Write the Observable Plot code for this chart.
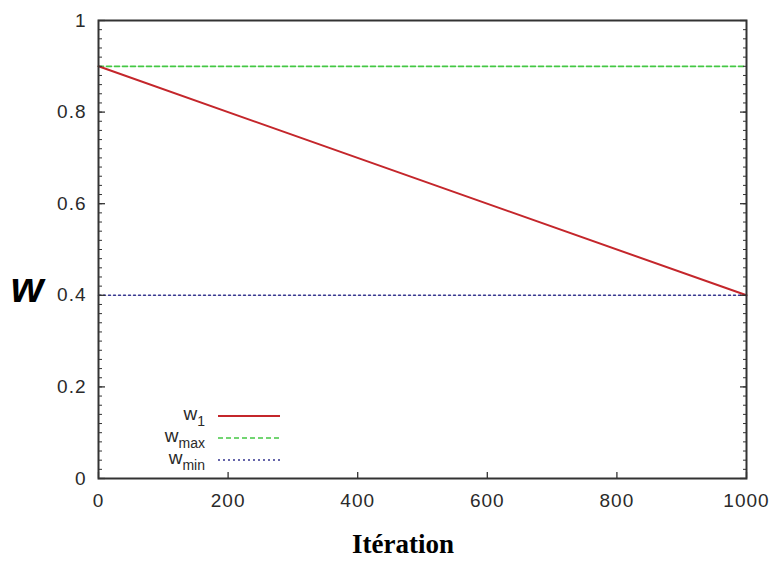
<!DOCTYPE html>
<html><head><meta charset="utf-8">
<script src="https://cdn.jsdelivr.net/npm/d3@7"></script>
<script src="https://cdn.jsdelivr.net/npm/@observablehq/plot@0.6"></script>
<style>
body{margin:0;background:#fff}
#wrap{position:relative;width:772px;height:561px;font-family:"Liberation Sans",Arial,sans-serif}
#wrap svg{position:absolute;left:0;top:0}
</style>
</head><body><div id="wrap"></div>
<script>
// ---- data ----
const iterations = [0, 1000];
const wT   = [0.9, 0.4];
const wMax = [0.9, 0.9];
const wMin = [0.4, 0.4];
const xTicks = [0, 200, 400, 600, 800, 1000];
const yTicks = [0, 0.2, 0.4, 0.6, 0.8, 1];
const yMinorStep = 0.02;
const seriesNames = ["w1", "wmax", "wmin"];
const legendBase = ["w", "w", "w"];
const legendSub  = ["1", "max", "min"];
const colors = ["#c4262b", "#44c844", "#35358f"];
const dashes = [null, "5,3", "2,3"];
const yLabel = "w";
const xLabel = "Itération";

const rows = iterations.map((x, i) => ({x, wt: wT[i], wmax: wMax[i], wmin: wMin[i]}));
const yMinor = d3.range(0, 1 + 1e-9, yMinorStep);

const W = 772, H = 561;
const chart = Plot.plot({
  width: W, height: H,
  marginLeft: 98, marginRight: 26, marginTop: 20, marginBottom: 83,
  style: {fontFamily: '"Liberation Sans", Arial, sans-serif', fontSize: "19px", letterSpacing: "1px", color: "#2a2a2a", background: "#fff"},
  x: {domain: [0, 1000]},
  y: {domain: [0, 1]},
  marks: [
    Plot.line(rows, {x: "x", y: "wmax", stroke: colors[1], strokeWidth: 1.7, strokeDasharray: dashes[1]}),
    Plot.line(rows, {x: "x", y: "wmin", stroke: colors[2], strokeWidth: 1.5, strokeDasharray: dashes[2]}),
    Plot.line(rows, {x: "x", y: "wt", stroke: colors[0], strokeWidth: 2}),
    Plot.axisY(yTicks, {anchor: "left", tickSize: 0, tickPadding: 12, label: null, tickFormat: d => String(d)}),
    Plot.axisY(yTicks, {anchor: "left", tickSize: -7, text: null, label: null, stroke: "#333", strokeWidth: 1.3}),
    Plot.axisY(yMinor, {anchor: "left", tickSize: -4, text: null, label: null, stroke: "#333"}),
    Plot.axisY(yTicks, {anchor: "right", tickSize: -7, text: null, label: null, stroke: "#333", strokeWidth: 1.3}),
    Plot.axisY(yMinor, {anchor: "right", tickSize: -4, text: null, label: null, stroke: "#333"}),
    Plot.axisX(xTicks, {anchor: "bottom", tickSize: 0, tickPadding: 15, label: null, tickFormat: d => String(d)}),
    Plot.axisX(xTicks, {anchor: "bottom", tickSize: -6, text: null, label: null, stroke: "#333", strokeWidth: 1.3}),
    Plot.frame({stroke: "#333", strokeWidth: 2})
  ]
});
const wrap = document.getElementById("wrap");
wrap.appendChild(chart);

// overlay: labels and legend
const ov = d3.select(wrap).append("svg").attr("width", W).attr("height", H)
  .style("pointer-events", "none");
ov.append("text").attr("x", 27).attr("y", 302).attr("text-anchor", "middle")
  .attr("font-family", '"Liberation Sans", Arial, sans-serif')
  .attr("font-weight", "bold").attr("font-style", "italic").attr("font-size", 42)
  .attr("fill", "#000").text(yLabel);
ov.append("text").attr("x", 403).attr("y", 553).attr("text-anchor", "middle")
  .attr("font-family", '"Liberation Serif", "Times New Roman", serif')
  .attr("font-weight", "bold").attr("font-size", 27)
  .attr("fill", "#000").text(xLabel);

const legY = [416, 438, 460];
seriesNames.forEach((n, i) => {
  const t = ov.append("text").attr("x", 205).attr("y", legY[i] + 4).attr("text-anchor", "end")
    .attr("font-family", '"Liberation Sans", Arial, sans-serif').attr("font-size", 19).attr("fill", "#2a2a2a");
  t.append("tspan").text(legendBase[i]);
  t.append("tspan").attr("font-size", 14).attr("dy", 6).text(legendSub[i]);
  const l = ov.append("line").attr("x1", 218).attr("x2", 280).attr("y1", legY[i]).attr("y2", legY[i])
    .attr("stroke", colors[i]).attr("stroke-width", i === 0 ? 2 : 1.6);
  if (dashes[i]) l.attr("stroke-dasharray", dashes[i]);
});
</script>
</body></html>
